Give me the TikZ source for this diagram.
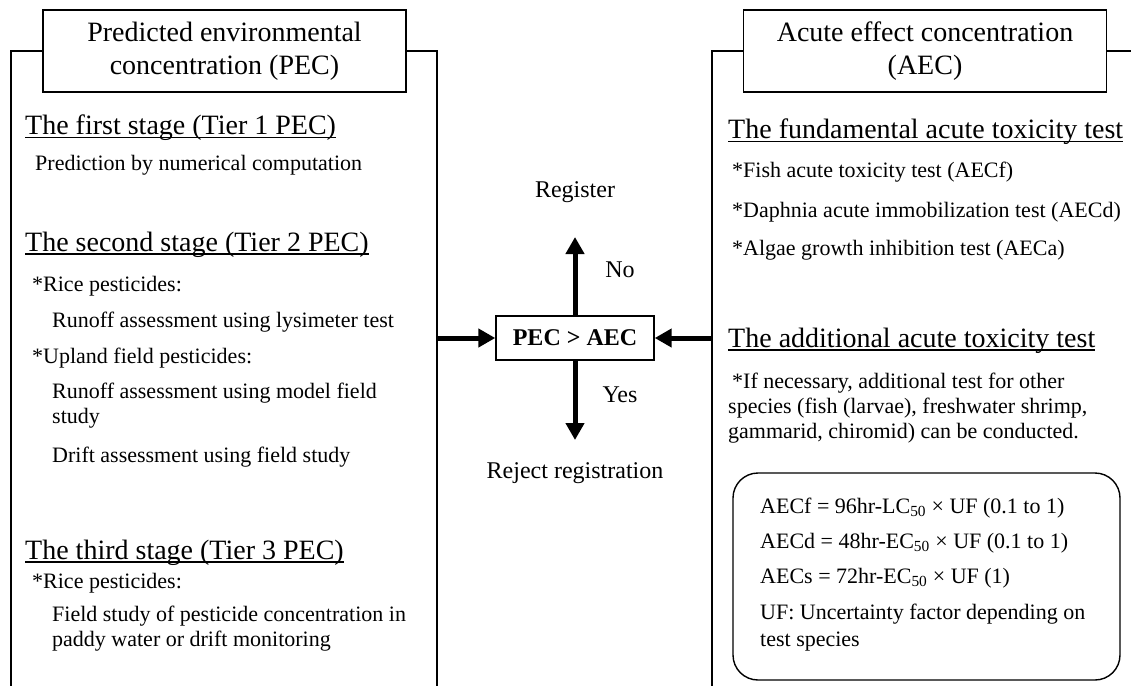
\documentclass[tikz,border=0pt]{standalone}
\usepackage{fontspec}
\setmainfont{Liberation Serif}
\usetikzlibrary{positioning, arrows.meta}
\newcommand{\ulhead}[1]{\setbox0\hbox{#1}\rlap{\rule[-3pt]{\wd0}{1.3pt}}\box0}
\tikzset{
  panel/.style={line width=1.4pt},
  headbox/.style={draw, line width=1.4pt, minimum width=363pt, minimum height=82pt, align=center, font=\fontsize{28}{33}\selectfont},
  heading/.style={anchor=west, inner sep=0pt, font=\fontsize{28}{33}\selectfont},
  item/.style={anchor=west, inner sep=0pt, align=left, font=\fontsize{22}{25}\selectfont},
  judge/.style={draw, line width=1.4pt, minimum width=158pt, minimum height=44pt, font=\fontsize{24}{28}\selectfont\bfseries},
  verdict/.style={inner sep=0pt, font=\fontsize{24}{28}\selectfont},
  formbox/.style={draw, line width=1.4pt, rounded corners=25pt, minimum width=387pt, minimum height=207pt},
  flow/.style={-{Triangle[length=17pt,width=18pt]}, line width=5pt},
}
\begin{document}
\begin{tikzpicture}[x=1pt, y=-1pt]
  \useasboundingbox (0,0) rectangle (1131,686);
  % left panel: PEC
  \node[headbox] (pec) at (224.5,51) {Predicted environmental\\concentration (PEC)};
  \draw[panel] (pec.west) -- (11,51) -- (11,686);
  \draw[panel] (pec.east) -- (437,51) -- (437,686);
  \node[heading] (s1) at (25,128) {\ulhead{The first stage (Tier 1 PEC)}};
  \node[item] (s1a) at (35,165) {Prediction by numerical computation};
  \node[heading] (s2) at (25,245) {\ulhead{The second stage (Tier 2 PEC)}};
  \node[item] (s2a) at (32,286) {*Rice pesticides:};
  \node[item] (s2b) at (52,322) {Runoff assessment using lysimeter test};
  \node[item] (s2c) at (32,358) {*Upland field pesticides:};
  \node[item] (s2d) at (52,406) {Runoff assessment using model field\\study};
  \node[item] (s2e) at (52,457) {Drift assessment using field study};
  \node[heading] (s3) at (25,553) {\ulhead{The third stage (Tier 3 PEC)}};
  \node[item] (s3a) at (32,583) {*Rice pesticides:};
  \node[item] (s3b) at (52,629) {Field study of pesticide concentration in\\paddy water or drift monitoring};
  % right panel: AEC
  \node[headbox] (aec) at (925,51) {Acute effect concentration\\(AEC)};
  \draw[panel] (aec.west) -- (712,51) -- (712,686);
  \draw[panel] (aec.east) -- (1131,51);
  \node[heading] (f0) at (728,132) {\ulhead{The fundamental acute toxicity test}};
  \node[item] (f1) at (732,172) {*Fish acute toxicity test (AECf)};
  \node[item] (f2) at (732,212) {*Daphnia acute immobilization test (AECd)};
  \node[item] (f3) at (732,250) {*Algae growth inhibition test (AECa)};
  \node[heading] (a0) at (728,341) {\ulhead{The additional acute toxicity test}};
  \node[item] (a1) at (728,408) {\hspace{4pt}*If necessary, additional test for other\\species (fish (larvae), freshwater shrimp,\\gammarid, chiromid) can be conducted.};
  \node[formbox] (ufbox) at (926.5,576.5) {};
  \node[item] (u1) at (760,508) {AECf = 96hr-LC\textsubscript{50} × UF (0.1 to 1)};
  \node[item] (u2) at (760,543) {AECd = 48hr-EC\textsubscript{50} × UF (0.1 to 1)};
  \node[item] (u3) at (760,578) {AECs = 72hr-EC\textsubscript{50} × UF (1)};
  \node[item, font=\fontsize{22}{27}\selectfont] (u4) at (760,628) {UF: Uncertainty factor depending on\\test species};
  % decision
  \node[judge] (cmp) at (575,338) {PEC > AEC};
  \node[verdict] (reg) at (575,192) {Register};
  \node[verdict] (rej) at (575,473) {Reject registration};
  \node[verdict] (no) at (620,270) {No};
  \node[verdict] (yes) at (620,395) {Yes};
  \coordinate (lwall) at (437,338);
  \coordinate (rwall) at (712,338);
  \coordinate (uptip) at (575,237);
  \coordinate (dntip) at (575,440);
  \foreach \a/\b in {lwall/cmp, rwall/cmp, cmp/uptip, cmp/dntip} \draw[flow] (\a) -- (\b);
\end{tikzpicture}
\end{document}
